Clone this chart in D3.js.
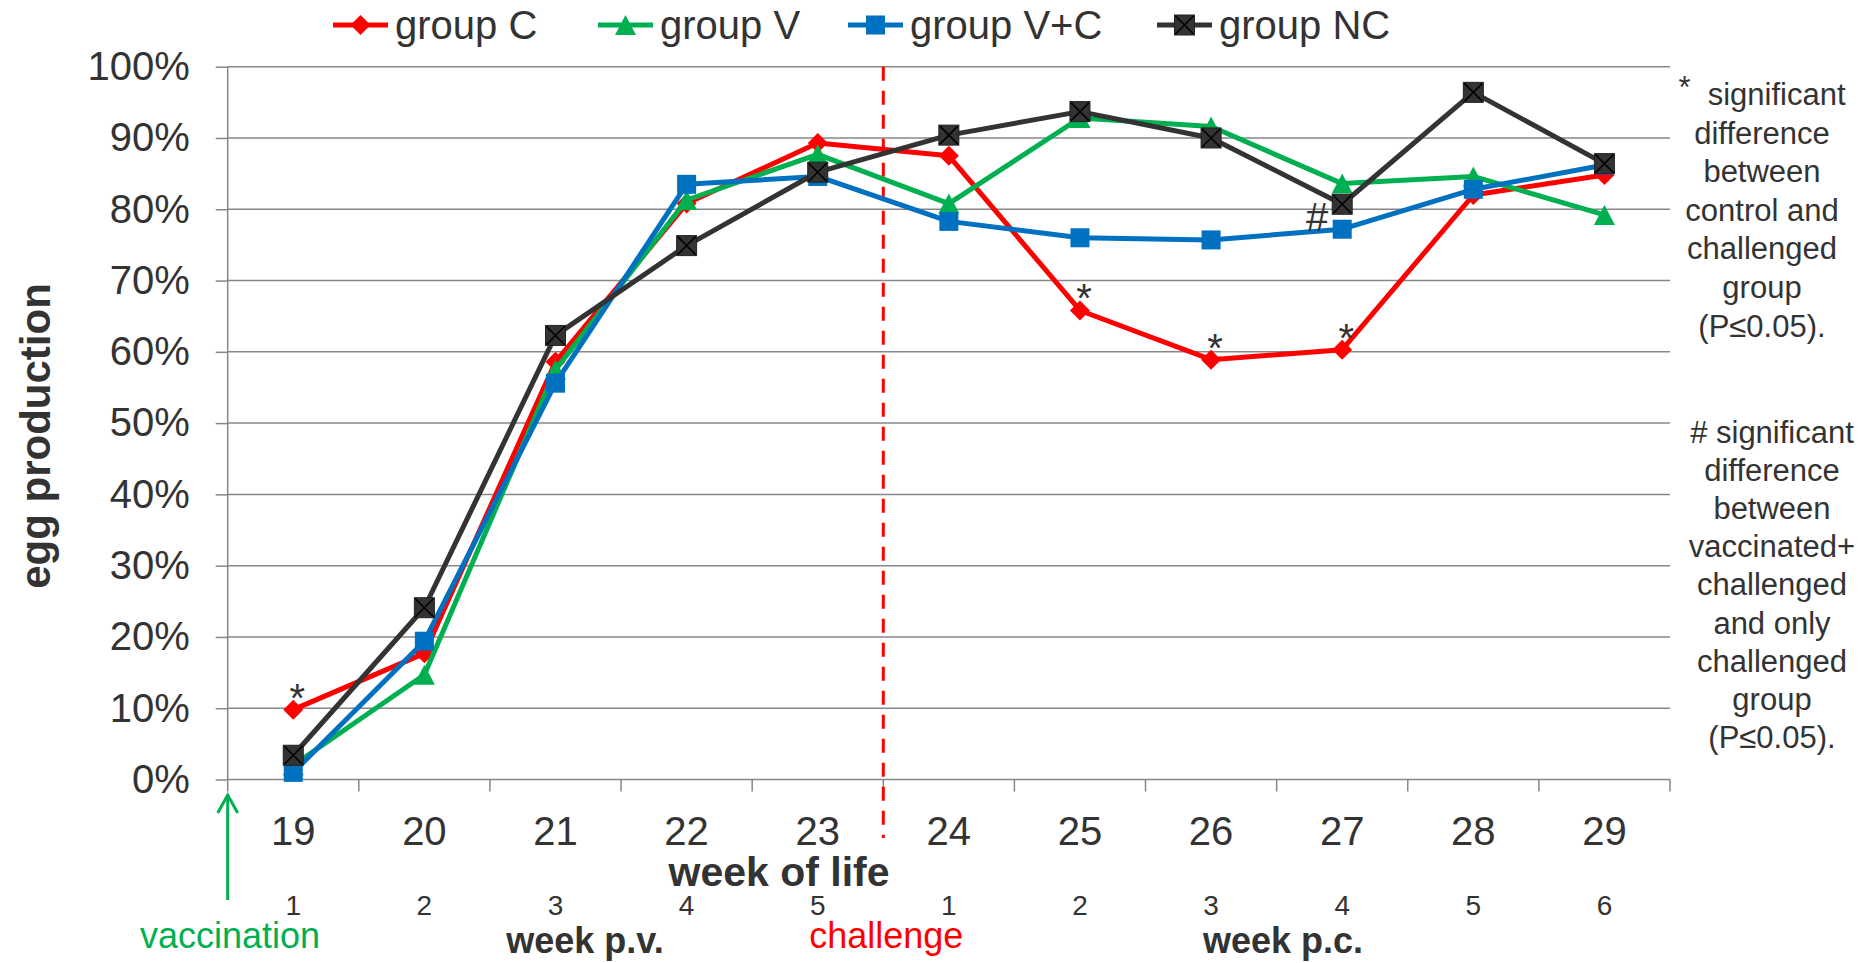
<!DOCTYPE html>
<html>
<head>
<meta charset="utf-8">
<script src="https://cdn.jsdelivr.net/npm/d3@7/dist/d3.min.js"></script>
<style>
  body { margin: 0; background: #fff; }
  text { font-family: "Liberation Sans", Arial, sans-serif; fill: #333; }
</style>
</head>
<body>
<script>
// data
var weeks = ["19", "20", "21", "22", "23", "24", "25", "26", "27", "28", "29"];
var weeksAfter = ["1", "2", "3", "4", "5", "1", "2", "3", "4", "5", "6"];
var yTicks = [0, 0.1, 0.2, 0.3, 0.4, 0.5, 0.6, 0.7, 0.8, 0.9, 1];

var groupC  = [0.098, 0.177, 0.586, 0.808, 0.893, 0.875, 0.658, 0.589, 0.603, 0.820, 0.848];
var groupV  = [0.020, 0.147, 0.575, 0.813, 0.877, 0.808, 0.928, 0.916, 0.836, 0.846, 0.792];
var groupVC = [0.010, 0.194, 0.556, 0.835, 0.846, 0.783, 0.760, 0.757, 0.772, 0.828, 0.862];
var groupNC = [0.034, 0.241, 0.623, 0.749, 0.852, 0.904, 0.937, 0.900, 0.807, 0.964, 0.864];

var seriesNames = ["group C", "group V", "group V+C", "group NC"];
var starWeeks = ["19", "25", "26", "27"];   // * on group C
var hashWeeks = ["27"];                     // # on group V+C

var noteStar = ["significant", "difference", "between", "control and", "challenged", "group", "(P\u22640.05)."];
var noteHash = ["# significant", "difference", "between", "vaccinated+", "challenged", "and only", "challenged", "group", "(P\u22640.05)."];

var W = 1870, H = 963;
var plot = { left: 227.7, right: 1670, top: 66.7, bottom: 779.5 };
var grey = "#878787";

var svg = d3.select("body").append("svg")
  .attr("width", W)
  .attr("height", H);

var x = d3.scaleBand().domain(weeks).range([plot.left, plot.right]);
var y = d3.scaleLinear().domain([0, 1]).range([plot.bottom, plot.top]);
var cx = function(w) { return x(w) + x.bandwidth() / 2; };

// gridlines + y axis
var yAxis = svg.append("g")
  .attr("transform", "translate(" + plot.left + ",0)")
  .call(d3.axisLeft(y).tickValues(yTicks).tickSize(12).tickPadding(26)
    .tickFormat(d3.format(".0%")));
yAxis.select(".domain").remove();
yAxis.selectAll(".tick line").attr("stroke", grey).attr("stroke-width", 1.5);
yAxis.selectAll(".tick text")
  .attr("font-size", 40)
  .attr("fill", "#333")
  .style("font-family", '"Liberation Sans", Arial, sans-serif');

svg.append("g").selectAll("line")
  .data(yTicks)
  .enter().append("line")
  .attr("x1", plot.left).attr("x2", plot.right)
  .attr("y1", function(d) { return y(d); })
  .attr("y2", function(d) { return y(d); })
  .attr("stroke", grey).attr("stroke-width", 1.5);

svg.append("line")
  .attr("x1", plot.left).attr("x2", plot.left)
  .attr("y1", plot.top).attr("y2", plot.bottom)
  .attr("stroke", grey).attr("stroke-width", 1.5);

// x ticks on band edges
var edges = weeks.map(function(w) { return x(w); }).concat([plot.right]);
svg.append("g").selectAll("line")
  .data(edges)
  .enter().append("line")
  .attr("x1", function(d) { return d; }).attr("x2", function(d) { return d; })
  .attr("y1", plot.bottom).attr("y2", plot.bottom + 12)
  .attr("stroke", grey).attr("stroke-width", 1.5);

svg.append("g").selectAll("text")
  .data(weeks)
  .enter().append("text")
  .attr("x", cx)
  .attr("y", 845)
  .attr("text-anchor", "middle")
  .attr("font-size", 40)
  .text(function(d) { return d; });

svg.append("g").selectAll("text")
  .data(weeksAfter)
  .enter().append("text")
  .attr("x", function(d, i) { return cx(weeks[i]); })
  .attr("y", 915)
  .attr("text-anchor", "middle")
  .attr("font-size", 28)
  .text(function(d) { return d; });

svg.append("text")
  .attr("x", 779).attr("y", 886)
  .attr("text-anchor", "middle")
  .attr("font-size", 41).attr("font-weight", "bold")
  .text("week of life");

svg.append("text")
  .attr("x", 585).attr("y", 953)
  .attr("text-anchor", "middle")
  .attr("font-size", 36).attr("font-weight", "bold")
  .text("week p.v.");

svg.append("text")
  .attr("x", 1283).attr("y", 953)
  .attr("text-anchor", "middle")
  .attr("font-size", 36).attr("font-weight", "bold")
  .text("week p.c.");

svg.append("text")
  .attr("transform", "translate(50,436) rotate(-90)")
  .attr("text-anchor", "middle")
  .attr("font-size", 42).attr("font-weight", "bold")
  .text("egg production");

// challenge line
var chX = x("24");
svg.append("line")
  .attr("x1", chX).attr("x2", chX)
  .attr("y1", plot.top).attr("y2", 838)
  .attr("stroke", "#ff0000").attr("stroke-width", 3)
  .attr("stroke-dasharray", "14,10");

svg.append("text")
  .attr("x", chX + 3).attr("y", 948)
  .attr("text-anchor", "middle")
  .attr("font-size", 36)
  .style("fill", "#ff0000")
  .text("challenge");

// vaccination arrow
svg.append("line")
  .attr("x1", plot.left).attr("x2", plot.left)
  .attr("y1", 900).attr("y2", 795)
  .attr("stroke", "#00b050").attr("stroke-width", 3);
svg.append("path")
  .attr("d", "M" + (plot.left - 10) + ",813L" + plot.left + ",795L" + (plot.left + 10) + ",813")
  .attr("fill", "none").attr("stroke", "#00b050").attr("stroke-width", 3);
svg.append("text")
  .attr("x", 230).attr("y", 948)
  .attr("text-anchor", "middle")
  .attr("font-size", 36)
  .style("fill", "#00b050")
  .text("vaccination");

// markers
function drawMarker(g, type, color) {
  if (type === "diamond") {
    g.append("path").attr("d", "M0,-10L10,0L0,10L-10,0Z").attr("fill", color);
  } else if (type === "triangle") {
    g.append("path").attr("d", "M0,-10L10.5,10L-10.5,10Z").attr("fill", color);
  } else if (type === "square") {
    g.append("rect").attr("x", -9.5).attr("y", -9.5).attr("width", 19).attr("height", 19).attr("fill", color);
  } else {
    g.append("rect").attr("x", -10).attr("y", -10).attr("width", 20).attr("height", 20)
      .attr("fill", color).attr("stroke", "#222").attr("stroke-width", 1);
    g.append("path").attr("d", "M-9,-9L9,9M9,-9L-9,9")
      .attr("stroke", "#000").attr("stroke-width", 1.5);
  }
}

var series = [
  { name: seriesNames[0], values: groupC,  color: "#ff0000", marker: "diamond" },
  { name: seriesNames[1], values: groupV,  color: "#00b050", marker: "triangle" },
  { name: seriesNames[2], values: groupVC, color: "#0070c0", marker: "square" },
  { name: seriesNames[3], values: groupNC, color: "#333333", marker: "xsquare" }
];

var line = d3.line()
  .x(function(d, i) { return cx(weeks[i]); })
  .y(function(d) { return y(d); });

series.forEach(function(s) {
  var g = svg.append("g");
  g.append("path")
    .datum(s.values)
    .attr("d", line)
    .attr("fill", "none")
    .attr("stroke", s.color)
    .attr("stroke-width", 5)
    .attr("stroke-linejoin", "round");
  s.values.forEach(function(v, i) {
    var m = g.append("g").attr("transform", "translate(" + cx(weeks[i]) + "," + y(v) + ")");
    drawMarker(m, s.marker, s.color);
  });
});

// significance marks
svg.append("g").selectAll("text")
  .data(starWeeks)
  .enter().append("text")
  .attr("x", function(w) { return cx(w) + 4; })
  .attr("y", function(w) { return y(groupC[weeks.indexOf(w)]) + 2; })
  .attr("text-anchor", "middle")
  .attr("font-size", 40)
  .text("*");

svg.append("g").selectAll("text")
  .data(hashWeeks)
  .enter().append("text")
  .attr("x", function(w) { return cx(w) - 25; })
  .attr("y", function(w) { return y(groupVC[weeks.indexOf(w)]) + 2; })
  .attr("text-anchor", "middle")
  .attr("font-size", 40)
  .text("#");

// legend
var legendX = [333, 598, 848, 1157];
var legend = svg.append("g");
series.forEach(function(s, i) {
  var g = legend.append("g").attr("transform", "translate(" + legendX[i] + ",25)");
  g.append("line").attr("x1", 0).attr("x2", 55).attr("y1", 0).attr("y2", 0)
    .attr("stroke", s.color).attr("stroke-width", 5);
  drawMarker(g.append("g").attr("transform", "translate(27.5,0)"), s.marker, s.color);
  g.append("text").attr("x", 62).attr("y", 14)
    .attr("font-size", 40)
    .text(s.name);
});

// notes on the right
var starNote = svg.append("g").selectAll("text")
  .data(noteStar)
  .enter().append("text")
  .attr("x", 1762)
  .attr("y", function(d, i) { return 105 + i * 38.6; })
  .attr("text-anchor", "middle")
  .attr("font-size", 31);
starNote.each(function(d, i) {
  var t = d3.select(this);
  if (i === 0) {
    t.append("tspan").attr("dy", -7).text("*");
    t.append("tspan").attr("dy", 7).text("\u00a0 " + d);
  } else {
    t.text(d);
  }
});

svg.append("g").selectAll("text")
  .data(noteHash)
  .enter().append("text")
  .attr("x", 1772)
  .attr("y", function(d, i) { return 443 + i * 38.1; })
  .attr("text-anchor", "middle")
  .attr("font-size", 31)
  .text(function(d) { return d; });
</script>
</body>
</html>
